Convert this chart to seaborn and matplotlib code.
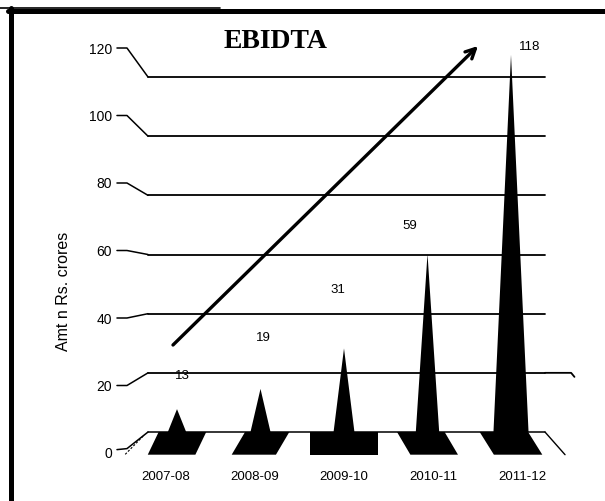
import matplotlib
matplotlib.use("Agg")
import matplotlib.pyplot as plt
from matplotlib.patches import Polygon
from matplotlib.lines import Line2D
import seaborn as sns

periods = ["2007-08", "2008-09", "2009-10", "2010-11", "2011-12"]
ebidta = [13, 19, 31, 59, 118]
yticks = [0, 20, 40, 60, 80, 100, 120]
title = "EBIDTA"
ylabel = "Amt n Rs. crores"

sns.set_style("white")
plt.rcParams["font.family"] = ["Liberation Sans", "DejaVu Sans"]
for k in ["text.color", "axes.labelcolor", "xtick.color", "ytick.color"]:
    plt.rcParams[k] = "black"

W, H = 605, 501
fig = plt.figure(figsize=(W / 100, H / 100), dpi=100)

# front plane of the 3d chart: category 0 at 177px (83.5px apart), value 0 at 453px (3.375px per unit)
x0px, xstep = 177, 83.5
y0px, ystep = 453, 3.375
xlim = (-0.731, 4.826)
ylim = (-2, 130)
ax = fig.add_axes([(x0px + xlim[0] * xstep) / W,
                   (H - (y0px - ylim[0] * ystep)) / H,
                   (xlim[1] - xlim[0]) * xstep / W,
                   (ylim[1] - ylim[0]) * ystep / H])

def back(v):
    # value on the back wall, seen from the front plane
    return 6.22 + 0.8765 * v

floor = back(0)
grid_x0, grid_x1 = -0.347, 4.407

sns.barplot(x=periods, y=ebidta, width=0.3, color="black", ax=ax)

spike_w = [0.22, 0.24, 0.25, 0.28, 0.42]
base_w = [0.57, 0.53, 0.82, 0.57, 0.58]
slant = [-0.13, -0.16, 0.0, 0.16, 0.17]
lab_dx = [0.06, 0.04, -0.07, -0.21, 0.22]
lab_dy = [9.8, 15.1, 17.3, 8.3, 2.3]

for i, bar in enumerate(list(ax.patches)):
    cx = bar.get_x() + bar.get_width() / 2
    h = bar.get_height()
    bar.remove()
    bc, fc, bw = cx - slant[i] / 2, cx + slant[i] / 2, base_w[i]
    ax.add_patch(Polygon([(bc - bw / 2, floor), (bc + bw / 2, floor),
                          (fc + bw / 2, -0.5), (fc - bw / 2, -0.5)],
                         closed=True, fc="black", ec="none", zorder=3))
    w = spike_w[i]
    ax.add_patch(Polygon([(cx - w / 2, floor), (cx + w / 2, floor), (cx, h)],
                         closed=True, fc="black", ec="none", zorder=3))
    ax.text(cx + lab_dx[i], h + lab_dy[i], f"{h:.0f}", ha="center", va="center",
            fontsize=9.5, color="black", zorder=4)

# back wall gridlines with their bent leaders to the tick labels
for v in yticks[1:]:
    ax.plot([grid_x0, grid_x1], [back(v), back(v)], color="black", lw=1.3, zorder=1)
    ax.plot([-0.719, -0.599, grid_x0], [v, v, back(v)], color="black", lw=1.1, zorder=1)
ax.plot([grid_x1, 4.72, 4.76], [back(20), back(20), back(20) - 1.2], color="black", lw=1.3, zorder=1)

# floor edges
ax.plot([grid_x0, grid_x1], [floor, floor], color="black", lw=1.1, zorder=1)
ax.plot([grid_x1, 4.647], [floor, -0.5], color="black", lw=1.0, zorder=1)
ax.plot([-0.719, -0.599, grid_x0], [1.0, 1.3, floor], color="black", lw=1.1, zorder=1)
ax.plot([-0.62, -0.39], [-0.4, 5.4], color="black", lw=0.8, ls=(0, (2, 1.5)), zorder=1)

# trend arrow
ax.annotate("", xy=(3.605, 120.6), xytext=(-0.048, 32.0),
            arrowprops=dict(arrowstyle="->,head_length=0.7,head_width=0.35",
                            lw=2.4, color="black", shrinkA=0, shrinkB=0), zorder=5)

ax.set_xlim(*xlim)
ax.set_ylim(*ylim)
ax.set_yticks(yticks)
ax.set_yticklabels([str(v) for v in yticks], fontsize=10)
ax.set_xticks([i + (i - 2) * 0.066 for i in range(len(periods))])
ax.set_xticklabels(periods, fontsize=9.5)
ax.tick_params(axis="y", length=0, pad=3)
ax.tick_params(axis="x", length=0, pad=8)
ax.set_xlabel("")
ax.set_ylabel("")
for s in ax.spines.values():
    s.set_visible(False)
ax.patch.set_alpha(0)

fig.text(276 / W, 1 - 42 / H, title, ha="center", va="center", fontsize=20,
         fontweight="bold", family=["Liberation Serif", "DejaVu Serif"])
fig.text(63.5 / W, 1 - 291 / H, ylabel, ha="center", va="center", rotation=90,
         fontsize=11.5)

# frame
fig.add_artist(Line2D([8 / W, 1], [1 - 10.5 / H, 1 - 10.5 / H], lw=3.6, color="black"))
fig.add_artist(Line2D([0, 220 / W], [1 - 7.5 / H, 1 - 7.5 / H], lw=1.2, color="black"))
fig.add_artist(Line2D([10.5 / W, 10.5 / W], [1 - 8 / H, 0], lw=3.6, color="black"))

fig.savefig("out.png", dpi=100)
